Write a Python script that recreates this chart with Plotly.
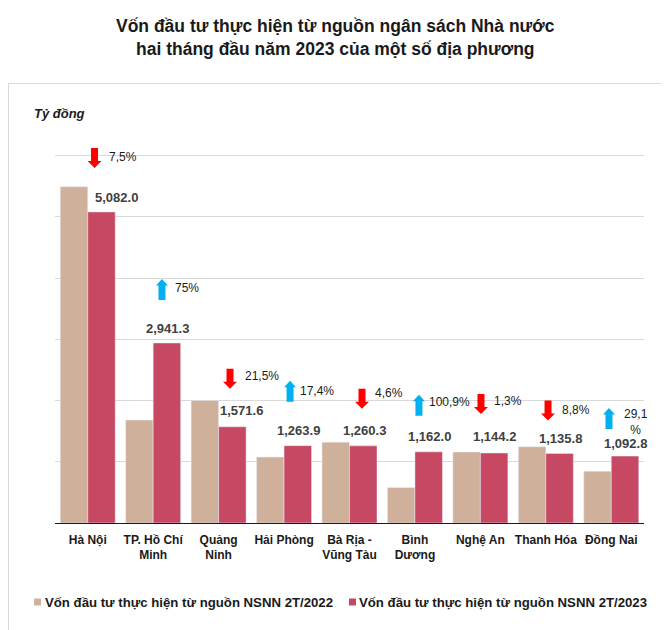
import plotly.graph_objects as go

# ---- data ----
categories = ["Hà Nội", "TP. Hồ Chí<br>Minh", "Quảng<br>Ninh", "Hải Phòng", "Bà Rịa -<br>Vũng Tàu",
              "Bình<br>Dương", "Nghệ An", "Thanh Hóa", "Đồng Nai"]
v2022 = [5494.0, 1680.7, 2002.0, 1076.6, 1321.1, 578.4, 1159.3, 1245.4, 846.5]
v2023 = [5082.0, 2941.3, 1571.6, 1263.9, 1260.3, 1162.0, 1144.2, 1135.8, 1092.8]
value_labels = ["5,082.0", "2,941.3", "1,571.6", "1,263.9", "1,260.3", "1,162.0", "1,144.2", "1,135.8", "1,092.8"]
pct_labels = ["7,5%", "75%", "21,5%", "17,4%", "4,6%", "100,9%", "1,3%", "8,8%", "29,1<br>%"]
pct_up = [False, True, False, True, False, True, False, False, True]
series_names = ["Vốn đầu tư thực hiện từ nguồn NSNN 2T/2022", "Vốn đầu tư thực hiện từ nguồn NSNN 2T/2023"]
title_lines = ["Vốn đầu tư thực hiện từ nguồn ngân sách Nhà nước", "hai tháng đầu năm 2023 của một số địa phương"]

# ---- styles ----
FONT = "Arial, Liberation Sans, sans-serif"
C22 = "#CFB09B"
C23 = "#C64862"
RED = "#FF0000"
BLUE = "#00B0F0"

OFF = 8  # page body margin of the html page
W, H = 670 - OFF, 630 - OFF
L, R, T, B = 47, 26, 111, 107
PW, PH = W - L - R, H - T - B


def px_x(px):  # px given in page (reference) coordinates
    return (px - OFF - L) / PW


def px_y(py):
    return (H - B - (py - OFF)) / PH


x = list(range(len(categories)))

fig = go.Figure()
fig.add_trace(go.Bar(x=x, y=v2022, name=series_names[0], marker_color=C22, hoverinfo="skip"))
fig.add_trace(go.Bar(x=x, y=v2023, name=series_names[1], marker_color=C23, hoverinfo="skip"))

annotations = []
shapes = []

# title
for line, py in zip(title_lines, [26.5, 49.5]):
    annotations.append(dict(x=px_x(335), y=px_y(py), xref="paper", yref="paper", text=line, showarrow=False,
                            xanchor="center", yanchor="middle",
                            font=dict(family=FONT, size=17.5, color="#1a1a1a", weight="bold")))

# value labels (offsets in pixels relative to category centre / bar top)
lab_dx = [29, 14, 23, 14, 14.5, 14.5, 14.5, 15, 14.7]
lab_dy = [14, 14, 16, 15, 15, 15, 16, 15, 13]
for i in x:
    annotations.append(dict(x=i, y=v2023[i], xref="x", yref="y", text=value_labels[i], showarrow=False,
                            xshift=lab_dx[i], yshift=lab_dy[i], xanchor="center", yanchor="middle",
                            font=dict(family=FONT, size=13, color="#404040", weight="bold")))

# arrows + percentage texts (pixel offsets)
arr_dx = [6.8, 8.8, 11.4, 6, 12.5, 4, 0.6, 2.2, -2.3]
arr_top = [64, 64, 58, 65, 57, 57, 59, 53, 48]
txt_dx = [19.3, 19.8, 24.4, 14, 23.5, 12, 11.6, 14, 10.7]
txt_dy = [55, 55, 51, 55, 53, 50, 52, 43, 34]
for i in x:
    cx, top = arr_dx[i], arr_top[i]
    if pct_up[i]:
        pts = [(0, 0), (6, -6.5), (3.5, -6.5), (3.5, -21), (-3.5, -21), (-3.5, -6.5), (-6, -6.5)]
        col = BLUE
    else:
        pts = [(-3.5, 0), (3.5, 0), (3.5, -13), (7, -13), (0, -20), (-7, -13), (-3.5, -13)]
        col = RED
    path = "M " + " L ".join(f"{cx + a:.2f},{top + b:.2f}" for a, b in pts) + " Z"
    shapes.append(dict(type="path", xref="x", yref="y", xsizemode="pixel", ysizemode="pixel",
                       xanchor=i, yanchor=v2023[i], path=path, fillcolor=col, line=dict(width=0),
                       layer="above"))
    is_two = "<br>" in pct_labels[i]
    annotations.append(dict(x=i, y=v2023[i], xref="x", yref="y", text=pct_labels[i], showarrow=False,
                            xshift=txt_dx[i], yshift=txt_dy[i], xanchor="left", yanchor="middle",
                            align="center" if is_two else "left",
                            font=dict(family=FONT, size=12, color="#1a1a1a")))

# unit label
annotations.append(dict(x=px_x(32), y=px_y(113), xref="paper", yref="paper", text="Tỷ đồng", showarrow=False,
                        xanchor="left", yanchor="middle",
                        font=dict(family=FONT, size=13, color="#1a1a1a", weight="bold", style="italic")))

# custom legend
leg_sq_x = [37.5, 352.5]
leg_txt_x = [42.5, 357]
leg_y = 602
for k, (nm, col) in enumerate(zip(series_names, [C22, C23])):
    shapes.append(dict(type="rect", xref="paper", yref="paper", xsizemode="pixel", ysizemode="pixel",
                       xanchor=px_x(leg_sq_x[k]), yanchor=px_y(leg_y), x0=-3.5, x1=3.5, y0=-3.5, y1=3.5,
                       fillcolor=col, line=dict(width=0)))
    annotations.append(dict(x=px_x(leg_txt_x[k]), y=px_y(leg_y), xref="paper", yref="paper", text=nm,
                            showarrow=False, xanchor="left", yanchor="middle",
                            font=dict(family=FONT, size=13.2, color="#1a1a1a", weight="bold")))

# outer frame
shapes.append(dict(type="rect", xref="paper", yref="paper", x0=px_x(8.5), x1=px_x(663), y0=px_y(645), y1=px_y(83.5),
                   line=dict(color="#D9D9D9", width=1), fillcolor="rgba(0,0,0,0)", layer="below"))

fig.update_layout(
    width=W, height=H,
    margin=dict(l=L, r=R, t=T, b=B),
    paper_bgcolor="white", plot_bgcolor="white",
    barmode="group", bargap=0.16, bargroupgap=0,
    showlegend=False,
    xaxis=dict(tickmode="array", tickvals=x, ticktext=categories, range=[-0.5, len(x) - 0.5],
               showline=True, linecolor="#1a1a1a", linewidth=1.3, ticks="", showgrid=False, zeroline=False,
               ticklabelstandoff=5,
               tickfont=dict(family=FONT, size=12, color="#1a1a1a", weight="bold")),
    yaxis=dict(range=[0, 6600], dtick=1000, tick0=0, showticklabels=False, showgrid=True,
               gridcolor="#D9D9D9", gridwidth=1, zeroline=False, showline=False, ticks=""),
    annotations=annotations,
    shapes=shapes,
)

fig.write_html("out.html")
